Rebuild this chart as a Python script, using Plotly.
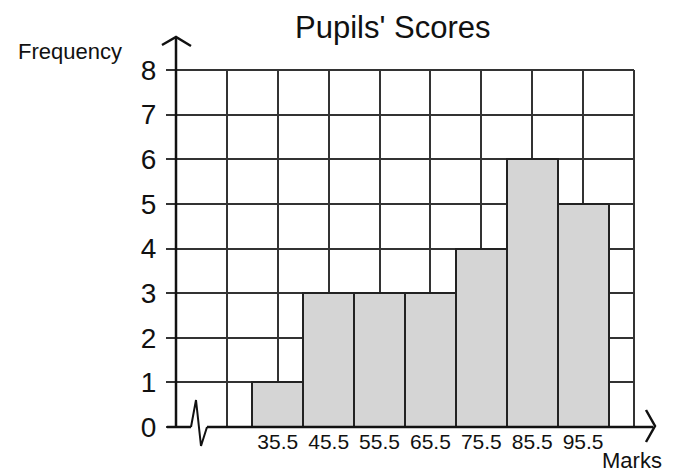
import plotly.graph_objects as go

# Class midpoints (marks) and pupil counts per class
marks = [35.5, 45.5, 55.5, 65.5, 75.5, 85.5, 95.5]
frequency = [1, 3, 3, 3, 4, 6, 5]
class_width = 10

# Grid positions along the marks axis and their labels
grid_marks = [15.5, 25.5, 35.5, 45.5, 55.5, 65.5, 75.5, 85.5, 95.5, 105.5]
grid_labels = ["", "", "35.5", "45.5", "55.5", "65.5", "75.5", "85.5", "95.5", ""]
freq_ticks = [0, 1, 2, 3, 4, 5, 6, 7, 8]

x_range = [grid_marks[0], grid_marks[-1]]
y_range = [freq_ticks[0], freq_ticks[-1]]

W, H = 680, 475
L, R, T, B = 176, 46, 70, 48
PW, PH = W - L - R, H - T - B

FONT = "Liberation Sans, Arial, Helvetica, sans-serif"
INK = "#111111"
GRID = "#333333"


def px(x):
    """Horizontal pixel -> paper fraction."""
    return (x - L) / PW


def py(y):
    """Vertical pixel -> paper fraction."""
    return (H - B - y) / PH


fig = go.Figure()
fig.add_trace(
    go.Bar(
        x=marks,
        y=frequency,
        width=[class_width] * len(marks),
        marker=dict(color="#d5d5d5", line=dict(color="#222222", width=2)),
        hoverinfo="x+y",
    )
)

line = dict(color=INK, width=2.5)
grid = dict(color=GRID, width=2)
shapes = [
    # outer grid lines that close the grid at the top and right edges
    dict(type="line", xref="paper", yref="paper", x0=px(167), x1=1, y0=1, y1=1, line=grid),
    dict(type="line", xref="paper", yref="paper", x0=1, x1=1, y0=0, y1=1, line=grid),
    # vertical axis with arrow head
    dict(type="line", xref="paper", yref="paper", x0=0, x1=0, y0=0, y1=py(37), line=line),
    dict(type="path", xref="paper", yref="paper",
         path=f"M {px(162)},{py(45)} L 0,{py(37)} L {px(191)},{py(46)}", line=line),
    # horizontal axis, broken near the origin
    dict(type="line", xref="paper", yref="paper", x0=px(167), x1=px(191), y0=0, y1=0, line=line),
    dict(type="path", xref="paper", yref="paper",
         path=f"M {px(191)},0 L {px(196)},{py(400)} L {px(201)},{py(446)} L {px(207)},0",
         line=dict(color=INK, width=2)),
    dict(type="line", xref="paper", yref="paper", x0=px(207), x1=px(653), y0=0, y1=0, line=line),
    dict(type="path", xref="paper", yref="paper",
         path=f"M {px(646)},{py(410)} L {px(655)},{py(426)} L {px(646)},{py(442)}", line=line),
]

annotations = [
    dict(text="Pupils' Scores", xref="paper", yref="paper", x=px(392), y=py(28),
         xanchor="center", yanchor="middle", showarrow=False,
         font=dict(family=FONT, size=31, color=INK)),
    dict(text="Frequency", xref="paper", yref="paper", x=px(70), y=py(52),
         xanchor="center", yanchor="middle", showarrow=False,
         font=dict(family=FONT, size=22, color=INK)),
    dict(text="Marks", xref="paper", yref="paper", x=px(632), y=py(475),
         xanchor="center", yanchor="bottom", showarrow=False,
         font=dict(family=FONT, size=22, color=INK)),
]

fig.update_layout(
    width=W,
    height=H,
    margin=dict(l=L, r=R, t=T, b=B, pad=0),
    paper_bgcolor="white",
    plot_bgcolor="white",
    showlegend=False,
    bargap=0,
    shapes=shapes,
    annotations=annotations,
    xaxis=dict(
        range=x_range,
        tickmode="array",
        tickvals=grid_marks,
        ticktext=grid_labels,
        showgrid=True,
        gridcolor=GRID,
        gridwidth=2,
        zeroline=False,
        showline=False,
        ticks="",
        tickfont=dict(family=FONT, size=21, color=INK),
        fixedrange=True,
    ),
    yaxis=dict(
        range=y_range,
        tickmode="array",
        tickvals=freq_ticks,
        showgrid=True,
        gridcolor=GRID,
        gridwidth=2,
        zeroline=False,
        showline=False,
        ticks="outside",
        ticklen=9,
        tickwidth=2,
        tickcolor=GRID,
        ticklabelstandoff=4,
        tickfont=dict(family=FONT, size=28, color=INK),
        fixedrange=True,
    ),
)

fig.write_html("out.html")
